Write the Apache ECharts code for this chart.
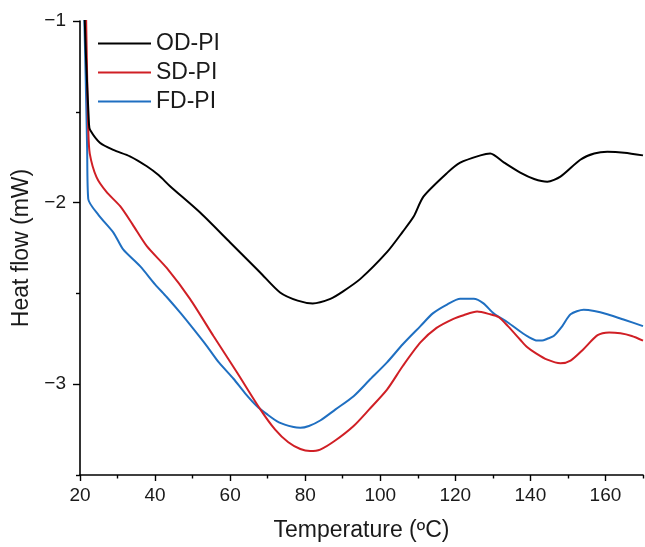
<!DOCTYPE html>
<html>
<head>
<meta charset="utf-8">
<script src="https://cdn.jsdelivr.net/npm/echarts@6/dist/echarts.min.js"></script>
<style>html,body{margin:0;padding:0;background:#fff}#c{width:645px;height:547px}</style>
</head>
<body>
<div id="c"></div>
<script>
// ---- data ----
var seriesNames = ['OD-PI', 'SD-PI', 'FD-PI'];

var odTemp = [21.2, 21.6, 22.4, 22.7, 25.3, 28.9, 33.3, 37.8, 41, 44, 52, 60, 68, 73.3, 78, 82, 86.7, 90, 94.7, 101.9, 106, 108.9, 111.5, 117.9, 121.3, 126.7, 129.3, 133, 137.3, 141, 144.5, 148, 153.3, 157, 160.5, 165, 170];
var odHeat = [-0.95, -1.2, -1.57, -1.6, -1.67, -1.71, -1.745, -1.8, -1.85, -1.91, -2.055, -2.22, -2.385, -2.495, -2.54, -2.555, -2.53, -2.49, -2.42, -2.27, -2.16, -2.077, -1.967, -1.835, -1.78, -1.74, -1.73, -1.78, -1.835, -1.87, -1.885, -1.857, -1.764, -1.73, -1.72, -1.725, -1.74];

var sdTemp = [21.6, 21.9, 22.2, 22.6, 24.4, 27, 30.7, 34, 37.8, 43.1, 49.3, 55.6, 61.8, 68, 72, 75.5, 78.7, 81.3, 84, 88, 92.9, 97, 101.8, 106, 110.7, 115, 119.5, 122.2, 125.8, 129.3, 131.5, 134, 137.3, 139.1, 141.5, 144.5, 148, 150.7, 154, 157.9, 161, 164, 167, 170];
var sdHeat = [-0.95, -1.3, -1.6, -1.73, -1.86, -1.94, -2.02, -2.12, -2.24, -2.36, -2.53, -2.736, -2.934, -3.137, -3.25, -3.32, -3.357, -3.368, -3.36, -3.31, -3.23, -3.14, -3.03, -2.9, -2.77, -2.69, -2.64, -2.62, -2.6, -2.615, -2.63, -2.68, -2.755, -2.795, -2.83, -2.865, -2.885, -2.87, -2.81, -2.73, -2.715, -2.72, -2.735, -2.76];

var fdTemp = [21.1, 21.5, 21.9, 22.2, 25, 28.9, 31.5, 36, 40, 43.1, 46.7, 50, 53.8, 57, 60.9, 64, 67.1, 69.8, 73, 76.9, 78.7, 81, 84, 88, 92.9, 97, 101.8, 106, 110.7, 114, 117.9, 121.3, 124.9, 127.5, 130.2, 134, 137.3, 139.5, 141.8, 143.1, 144.5, 146.2, 148.5, 150.7, 154.2, 157, 160.5, 165, 170];
var fdHeat = [-0.95, -1.3, -1.7, -1.98, -2.07, -2.165, -2.258, -2.35, -2.45, -2.52, -2.606, -2.69, -2.79, -2.88, -2.97, -3.05, -3.12, -3.165, -3.21, -3.236, -3.24, -3.23, -3.2, -3.14, -3.066, -2.98, -2.88, -2.78, -2.68, -2.61, -2.56, -2.53, -2.53, -2.555, -2.61, -2.66, -2.71, -2.74, -2.76, -2.76, -2.75, -2.735, -2.68, -2.615, -2.59, -2.597, -2.615, -2.645, -2.68];

var xMajorTicks = [20, 40, 60, 80, 100, 120, 140, 160];
var xMinorTicks = [30, 50, 70, 90, 110, 130, 150, 170];
var yMajorTicks = [-3, -2, -1];
var yMinorTicks = [-3.5, -2.5, -1.5];

var colors = ['#000000', '#d01f25', '#1f6fc1'];

function pairs(xs, ys) { return xs.map(function (x, i) { return [x, ys[i]]; }); }

var FONT = '"Liberation Sans", Arial, sans-serif';
var TXT = '#1a1a1a';

var chart = echarts.init(document.getElementById('c'), null, { renderer: 'canvas' });

var axisLineStyle = { show: true, lineStyle: { color: '#000', width: 1.6 } };

var option = {
  animation: false,
  backgroundColor: '#ffffff',
  grid: { left: 80, right: 2, top: 21, bottom: 71, containLabel: false },
  legend: {
    data: seriesNames,
    orient: 'vertical',
    left: 93,
    top: 27,
    itemWidth: 53,
    itemHeight: 14,
    itemGap: 6,
    textStyle: { fontFamily: FONT, fontSize: 23, color: TXT, lineHeight: 23 },
    icon: 'path://M0,6 L53,6 L53,8 L0,8 Z'
  },
  xAxis: [
    {
      type: 'value', min: 20, max: 170, interval: 20,
      name: 'Temperature (ºC)', nameLocation: 'middle', nameGap: 44,
      nameTextStyle: { fontFamily: FONT, fontSize: 23, color: TXT },
      axisLine: axisLineStyle,
      axisTick: { show: true, inside: false, length: 6, lineStyle: { color: '#000', width: 1.4 }, customValues: xMajorTicks },
      axisLabel: { show: true, fontFamily: FONT, fontSize: 19, color: TXT, margin: 11, customValues: xMajorTicks },
      splitLine: { show: false }
    },
    {
      type: 'value', min: 20, max: 170, interval: 10, position: 'bottom',
      axisLine: { show: false },
      axisTick: { show: true, inside: false, length: 3.5, lineStyle: { color: '#000', width: 1.4 }, customValues: xMinorTicks },
      axisLabel: { show: false },
      splitLine: { show: false }
    }
  ],
  yAxis: [
    {
      type: 'value', min: -3.5, max: -1, interval: 0.5,
      name: 'Heat flow (mW)', nameLocation: 'middle', nameGap: 43,
      nameTextStyle: { fontFamily: FONT, fontSize: 23, color: TXT },
      axisLine: axisLineStyle,
      axisTick: { show: true, inside: false, length: 7, lineStyle: { color: '#000', width: 1.4 }, customValues: yMajorTicks },
      axisLabel: {
        show: true, fontFamily: FONT, fontSize: 19, color: TXT, margin: 14, customValues: yMajorTicks,
        formatter: function (v) { return String(v).replace('-', '\u2212'); }
      },
      splitLine: { show: false }
    },
    {
      type: 'value', min: -3.5, max: -1, interval: 0.5, position: 'left',
      axisLine: { show: false },
      axisTick: { show: true, inside: false, length: 4, lineStyle: { color: '#000', width: 1.4 }, customValues: yMinorTicks },
      axisLabel: { show: false },
      splitLine: { show: false }
    }
  ],
  series: [
    { name: seriesNames[0], data: pairs(odTemp, odHeat) },
    { name: seriesNames[1], data: pairs(sdTemp, sdHeat) },
    { name: seriesNames[2], data: pairs(fdTemp, fdHeat) }
  ].map(function (s, i) {
    return {
      name: s.name, type: 'line', data: s.data, xAxisIndex: 0, yAxisIndex: 0,
      showSymbol: false, symbol: 'none', smooth: 0.25, clip: true,
      lineStyle: { color: colors[i], width: 2 }, itemStyle: { color: colors[i] },
      z: 3 - i
    };
  })
};

chart.setOption(option);
</script>
</body>
</html>
